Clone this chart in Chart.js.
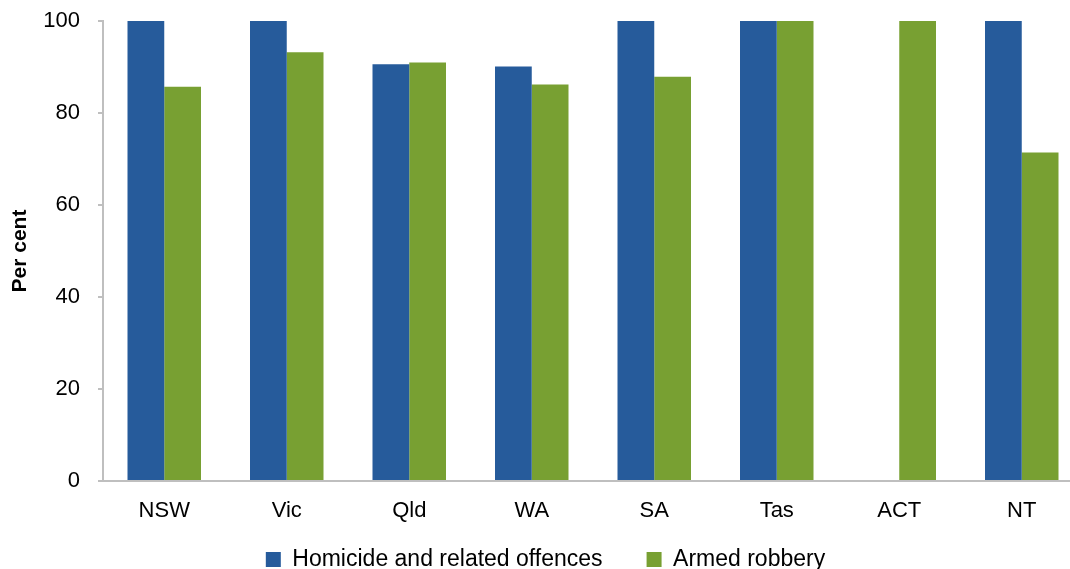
<!DOCTYPE html>
<html>
<head>
<meta charset="utf-8">
<script src="https://cdn.jsdelivr.net/npm/chart.js@4"></script>
<style>
  html, body { margin: 0; padding: 0; background: #fff; overflow: hidden; }
  #wrap { position: relative; width: 1083px; height: 581px; }
</style>
</head>
<body>
<div id="wrap"><canvas id="c"></canvas></div>
<script>
const jurisdictions = ['NSW', 'Vic', 'Qld', 'WA', 'SA', 'Tas', 'ACT', 'NT'];
const homicide = [100, 100, 90.6, 90.1, 100, 100, null, 100];
const armedRobbery = [85.7, 93.2, 91.0, 86.2, 87.9, 100, 100, 71.4];
const yTicks = [0, 20, 40, 60, 80, 100];

const FONT = "'Liberation Sans', Arial, sans-serif";

new Chart(document.getElementById('c'), {
  type: 'bar',
  data: {
    labels: jurisdictions,
    datasets: [
      { label: 'Homicide and related offences', data: homicide, backgroundColor: '#265b9b' },
      { label: 'Armed robbery', data: armedRobbery, backgroundColor: '#78a032' }
    ]
  },
  options: {
    responsive: true,
    maintainAspectRatio: false,
    animation: false,
    layout: { padding: { top: 21, left: 8, right: 0, bottom: 0 } },
    datasets: { bar: { categoryPercentage: 0.6, barPercentage: 1.0 } },
    plugins: {
      legend: {
        position: 'bottom',
        labels: {
          font: { family: FONT, size: 23 },
          color: '#000',
          boxWidth: 15,
          boxHeight: 15,
          padding: 44
        }
      },
      tooltip: { enabled: false }
    },
    scales: {
      x: {
        grid: { display: false },
        border: { color: '#bfbfbf', width: 2 },
        // mirrored labels pushed below the axis by a negative padding, so the
        // axis box stays short and the legend's wide spacing fits underneath
        ticks: { font: { family: FONT, size: 22 }, color: '#000', mirror: true, padding: -43 },
        afterFit: (axis) => { axis.height = 23; }
      },
      y: {
        min: 0,
        max: 100,
        afterBuildTicks: (axis) => { axis.ticks = yTicks.map(v => ({ value: v })); },
        afterFit: (axis) => { axis.paddingTop = 0; axis.paddingBottom = 0; axis.width = 95; },
        grid: { drawOnChartArea: false, drawTicks: true, tickLength: 5, color: '#bfbfbf', lineWidth: 2 },
        border: { color: '#bfbfbf', width: 2 },
        ticks: { font: { family: FONT, size: 22 }, color: '#000', padding: 18 },
        title: {
          display: true,
          text: 'Per cent',
          font: { family: FONT, size: 21, weight: 'bold' },
          color: '#000',
          padding: { top: 0, bottom: 0 }
        }
      }
    }
  }
});
</script>
</body>
</html>
